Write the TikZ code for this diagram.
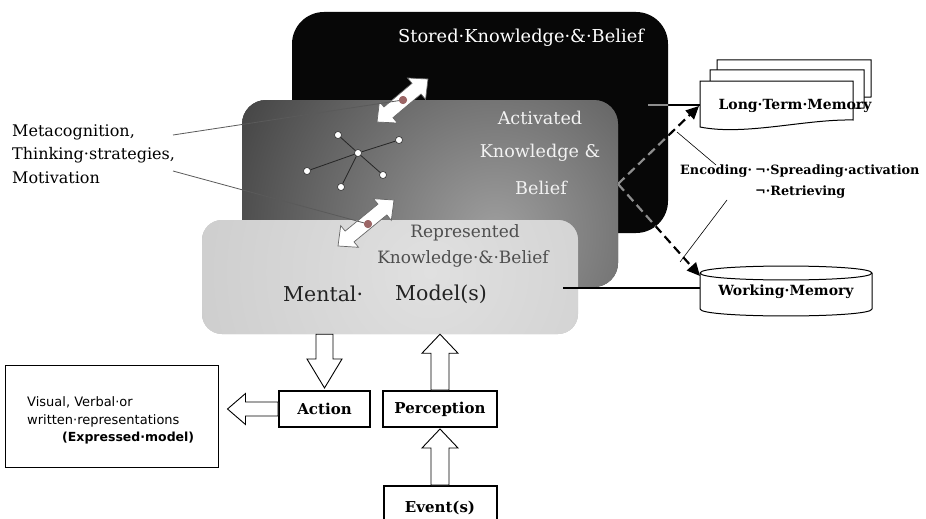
\documentclass[tikz,border=0pt]{standalone}
\usepackage{fontspec}
\setmainfont{DejaVu Serif}
\newfontfamily\sansf{DejaVu Sans}
\usetikzlibrary{arrows.meta,calc}
\definecolor{storedc}{HTML}{070707}
\definecolor{actout}{HTML}{3A3A3A}
\definecolor{actin}{HTML}{9E9E9E}
\definecolor{repout}{HTML}{C0C0C0}
\definecolor{repin}{HTML}{E0E0E0}
\definecolor{reptext}{HTML}{4E4E4E}
\definecolor{acttext}{HTML}{F2F2F2}
\definecolor{mentaltext}{HTML}{222222}
\definecolor{dotc}{HTML}{9C6666}
\definecolor{dashgray}{HTML}{8E8E8E}
\definecolor{leadc}{HTML}{5A5A5A}
\definecolor{dblline}{HTML}{666666}

\newcommand\fsz[1]{\fontsize{#1}{#1}\selectfont}

\newcommand\arrowgeom[2]{%
  \path let \p1=(#1), \p2=(#2) in \pgfextra{%
    \pgfmathsetmacro\ragA{atan2(\y2-\y1,\x2-\x1)}%
    \pgfmathsetmacro\ragL{veclen(\x2-\x1,\y2-\y1)}%
    \xdef\arrAng{\ragA}\xdef\arrLen{\ragL}};}

% hollow block arrow: start, tip, shaft half width, head half width, head length
\newcommand\hollowarrow[5]{%
  \arrowgeom{#1}{#2}%
  \begin{scope}[shift={(#1)}, rotate=\arrAng]
    \draw[hollowst] (0,#3) -- ({\arrLen-#5},#3) -- ({\arrLen-#5},#4) -- (\arrLen,0)
      -- ({\arrLen-#5},-#4) -- ({\arrLen-#5},-#3) -- (0,-#3) -- cycle;
  \end{scope}}

% white double-headed arrow between two points
\newcommand\whitedbl[2]{%
  \arrowgeom{#1}{#2}%
  \begin{scope}[shift={(#1)}, rotate=\arrAng]
    \draw[dblst] (0,0) -- (15,14) -- (15,7) -- ({\arrLen-15},7) -- ({\arrLen-15},14)
      -- (\arrLen,0) -- ({\arrLen-15},-14) -- ({\arrLen-15},-7) -- (15,-7) -- (15,-14) -- cycle;
  \end{scope}}

\begin{document}
\begin{tikzpicture}[x=1pt,y=-1pt,
  panel/.style={inner sep=0pt, draw=none},
  netnode/.style={circle, draw=black!80, fill=white, line width=0.6pt, minimum size=7pt, inner sep=0pt},
  dotst/.style={circle, fill=dotc, minimum size=8pt, inner sep=0pt},
  hollowst/.style={draw=black, fill=white, line width=0.9pt, line join=miter},
  dblst/.style={draw=dblline, fill=white, line width=0.7pt},
  box/.style={draw=black, fill=white, line width=2pt, inner sep=0pt, font=\bfseries\fsz{15}},
  txt/.style={inner sep=0pt},
  docst/.style={draw=black, fill=white, line width=1pt},
  dasharr/.style={line width=2.2pt, dash pattern=on 9pt off 5pt, -{Triangle[length=13pt,width=12pt]}},
  leadline/.style={draw=leadc, line width=0.8pt},
  thinline/.style={draw=black, line width=0.6pt},
  conline/.style={draw=black, line width=1.4pt}
]
\clip (0,0) rectangle (926,519);
\fill[white] (0,0) rectangle (926,519);

% ---------- layered panels ----------
\node[panel, fill=storedc, rounded corners=32pt, minimum width=376pt, minimum height=221pt] (stored) at (480,122.5) {};
% shading centres are relative to the node centre
\node[panel, fill=actout, rounded corners=24pt, minimum width=376pt, minimum height=187pt,
  path picture={\shade[inner color=actin, outer color=actout] (65,40) circle (320pt);}] (activated) at (430,193.5) {};

% network
\node[netnode] (nc) at (358,153) {};
\node[netnode] (n1) at (338,135) {};
\node[netnode] (n2) at (399,140) {};
\node[netnode] (n3) at (307,171) {};
\node[netnode] (n4) at (383,175) {};
\node[netnode] (n5) at (341,187) {};
\foreach \n in {n1,n2,n3,n4,n5} \draw[black!85, line width=0.8pt] (nc) -- (\n);

% upper double arrow
\coordinate (ua1) at (377,122);
\coordinate (ua2) at (428,79);
\whitedbl{ua1}{ua2}

\node[panel, fill=repout, rounded corners=20pt, minimum width=376pt, minimum height=114pt,
  path picture={\shade[inner color=repin, outer color=repout] (40,-5) circle (420pt);}] (represented) at (390,277) {};

% lower double arrow
\coordinate (la1) at (338,246);
\coordinate (la2) at (394,200);
\whitedbl{la1}{la2}

% left labels and leader lines
\node[txt, anchor=west, font=\fsz{16}] (meta) at (12,132) {Metacognition,};
\node[txt, anchor=west, font=\fsz{16}] (think) at (12,155) {Thinking·strategies,};
\node[txt, anchor=west, font=\fsz{16}] (motiv) at (12,178) {Motivation};
\coordinate (lt1) at (173,135);
\coordinate (lt2) at (173,171);
\node[dotst] (dot1) at (403,100) {};
\node[dotst] (dot2) at (368,224) {};
\draw[leadline] (lt1) -- (dot1);
\draw[leadline] (lt2) -- (dot2);
\node[dotst] at (dot1) {};
\node[dotst] at (dot2) {};

% panel texts
\node[txt, font=\fsz{17.8}, text=white] (storedtxt) at (521,38) {Stored·Knowledge·\&·Belief};
\node[txt, font=\fsz{17.6}, text=acttext] (acttxt1) at (540,118) {Activated};
\node[txt, font=\fsz{17.6}, text=acttext] (acttxt2) at (540,153) {Knowledge \&};
\node[txt, font=\fsz{17.6}, text=acttext] (acttxt3) at (541,188) {Belief};
\node[txt, font=\fsz{17}, text=reptext] (reptxt1) at (465,233) {Represented};
\node[txt, font=\fsz{17}, text=reptext] (reptxt2) at (463,259) {Knowledge·\&·Belief};
\node[txt, anchor=west, font=\fsz{20.5}, text=mentaltext] (mental) at (283,294) {Mental·};
\node[txt, anchor=west, font=\fsz{20.5}, text=mentaltext] (models) at (395,294) {Model(s)};

% ---------- right side: memories ----------
\draw[docst] (717,60) -- (871,60) -- (871,97) .. controls (820,97) and (760,112) .. (717,104) -- cycle;
\draw[docst] (710,70) -- (864,70) -- (864,108) .. controls (815,108) and (755,123) .. (710,115) -- cycle;
\draw[docst] (700,81) -- (853,81) -- (853,120) .. controls (805,119) and (745,136) .. (700,127) -- cycle;
\node[txt, font=\bfseries\fsz{14}] (ltm) at (795,106) {Long·Term·Memory};

\draw[docst] (700,273) -- (700,309) .. controls (700,318.3) and (872,318.3) .. (872,309)
  -- (872,273) .. controls (872,263.7) and (700,263.7) .. (700,273) -- cycle;
\draw[docst, fill=none] (700,273) .. controls (700,282.3) and (872,282.3) .. (872,273);
\node[txt, font=\bfseries\fsz{14}] (wm) at (786,292) {Working·Memory};

\coordinate (ltmline) at (648,105);
\coordinate (ltmL) at (700,105);
\coordinate (wmline) at (563,288);
\coordinate (wmL) at (700,288);
\coordinate (dstart) at (618,184);
\coordinate (ltmT) at (699,106);
\coordinate (wmT) at (700,276);

\draw[conline] (ltmline) -- (ltmL);
\draw[conline] (wmline) -- (wmL);
\draw[dasharr] (dstart) -- (ltmT);
\draw[dasharr] (dstart) -- (wmT);
\begin{scope}
  \clip[rounded corners=32pt] (292,12) rectangle (668,233);
  \draw[line width=2.2pt, dash pattern=on 9pt off 5pt, draw=dashgray] (dstart) -- (ltmT);
  \draw[line width=2.2pt, dash pattern=on 9pt off 5pt, draw=dashgray] (dstart) -- (wmT);
  \draw[line width=1.4pt, draw=dashgray] (ltmline) -- (ltmL);
\end{scope}

% encoding labels
\node[txt, anchor=west, font=\bfseries\fsz{12.8}] (enc) at (680,171) {Encoding·};
\node[txt, anchor=west, font=\bfseries\fsz{12.8}] (spread) at (755,171) {¬·Spreading·activation};
\node[txt, anchor=west, font=\bfseries\fsz{12.8}] (retr) at (755,192) {¬·Retrieving};
\coordinate (e1a) at (677,132);
\coordinate (e1b) at (716,165);
\coordinate (e2a) at (727,200);
\coordinate (e2b) at (680,262);
\draw[thinline] (e1a) -- (e1b);
\draw[thinline] (e2a) -- (e2b);

% ---------- bottom: action / perception ----------
\node[box, minimum width=91pt, minimum height=36pt] (action) at (324.5,409) {Action};
\node[box, minimum width=114pt, minimum height=36pt] (perception) at (440,409) {Perception};
\node[box, minimum width=113pt, minimum height=44pt] (event) at (440,508) {Event(s)};
\node[draw=black, line width=1pt, fill=white, minimum width=213pt, minimum height=102pt, inner sep=0pt] (visual) at (111.5,416) {};
\node[txt, anchor=west, font=\sansf\fsz{13}] (vis1) at (27,402) {Visual, Verbal·or};
\node[txt, anchor=west, font=\sansf\fsz{13}] (vis2) at (27,421) {written·representations};
\node[txt, anchor=west, font=\sansf\bfseries\fsz{12.5}] (vis3) at (62,438) {(Expressed·model)};

\hollowarrow{represented.south -| action.north}{$(action.north)+(0,-2)$}{8.5}{17.5}{29}
\hollowarrow{perception.north}{represented.south -| perception.north}{9}{18}{19}
\hollowarrow{event.north}{$(perception.south)+(0,1)$}{9}{18}{19}
\hollowarrow{action.west}{$(visual.east |- action.west)+(9,0)$}{7}{15.5}{18}

\end{tikzpicture}
\end{document}
